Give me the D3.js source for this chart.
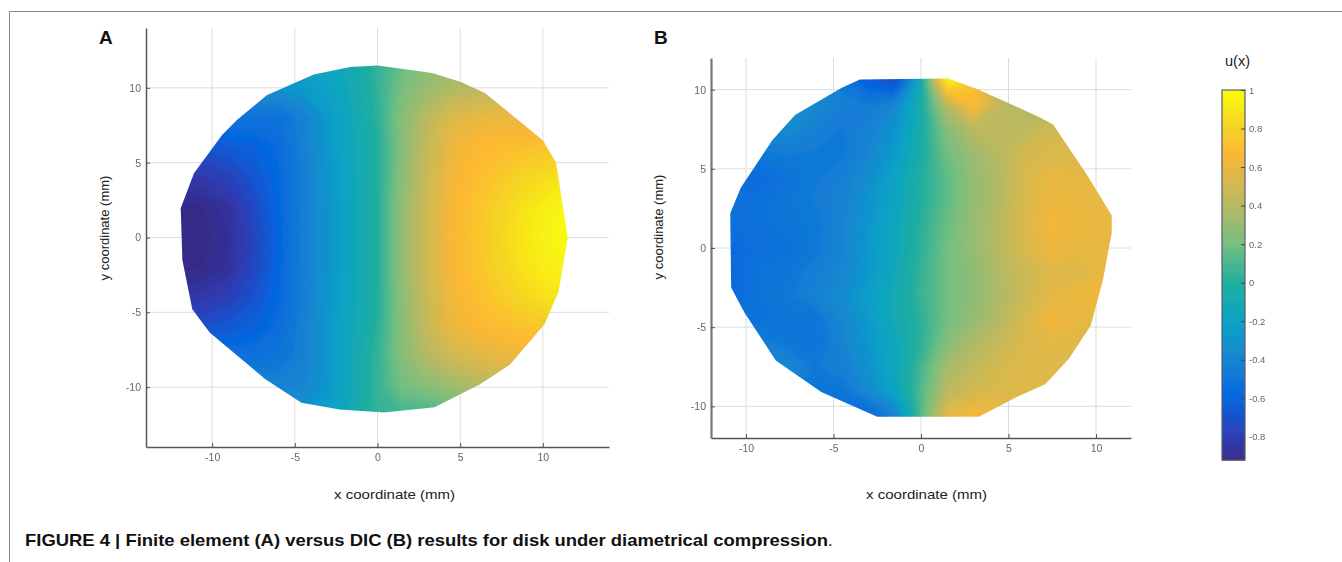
<!DOCTYPE html>
<html><head><meta charset="utf-8">
<script src="https://cdn.jsdelivr.net/npm/d3@7"></script>
<style>
html,body{margin:0;padding:0;background:#fff}
svg{display:block}
text{font-family:"Liberation Sans",Arimo,Helvetica,Arial,sans-serif}
</style></head><body>
<svg id="c" width="1342" height="562"></svg>
<script>
// ---------- data ----------
const xTicks = [-10,-5,0,5,10];
const yTicks = [-10,-5,0,5,10];
const barTicks = [-0.8,-0.6,-0.4,-0.2,0,0.2,0.4,0.6,0.8,1];
const colorStops = [-0.92,-0.8,-0.6,-0.4,-0.2,0,0.2,0.4,0.68,0.8,1];
const colorValues = ["#352a87","#2f3cb4","#0465df","#1683d2","#0aa3c6","#1fae9f","#74bf80","#b5b964","#fdb833","#f6d224","#f9fb0e"];

const gridX = [-12,-10.5,-9,-7.5,-6,-4.5,-3,-1.5,0,1.5,3,4.5,6,7.5,9,10.5,12];
const gridYA = [12,10,8,6,4,2,0,-2,-4,-6,-8,-10,-12];
const gridYB = [12,10.5,9,7.5,6,4.5,3,1.5,0,-1.5,-3,-4.5,-6,-7.5,-9,-10.5,-12];

const fieldA = [
[-.25,-.25,-.25,-.25,-.22,-.2,-.16,-.08,.05,.16,.25,.3,.32,.32,.32,.32,.32],
[-.3,-.3,-.3,-.3,-.3,-.26,-.2,-.1,.04,.22,.32,.38,.42,.42,.42,.42,.42],
[-.5,-.5,-.5,-.52,-.52,-.42,-.26,-.12,.03,.26,.42,.56,.6,.62,.6,.6,.6],
[-.7,-.68,-.65,-.62,-.56,-.42,-.27,-.13,0,.26,.46,.62,.68,.7,.72,.74,.76],
[-.85,-.82,-.78,-.68,-.58,-.43,-.29,-.14,0,.27,.48,.64,.71,.76,.82,.86,.9],
[-.92,-.91,-.86,-.74,-.59,-.43,-.3,-.15,0,.3,.5,.66,.73,.81,.89,.96,.99],
[-.93,-.92,-.88,-.76,-.6,-.43,-.3,-.15,0,.3,.5,.67,.74,.82,.91,.97,1],
[-.92,-.91,-.87,-.75,-.59,-.43,-.3,-.15,0,.3,.5,.66,.73,.81,.89,.95,.98],
[-.85,-.83,-.79,-.69,-.58,-.43,-.29,-.14,0,.28,.48,.64,.71,.77,.83,.88,.9],
[-.72,-.7,-.66,-.62,-.55,-.42,-.27,-.13,.02,.27,.46,.61,.67,.7,.73,.76,.78],
[-.52,-.52,-.52,-.52,-.5,-.42,-.27,-.11,.05,.26,.4,.5,.56,.6,.62,.62,.62],
[-.38,-.38,-.38,-.38,-.4,-.38,-.28,-.12,.05,.2,.26,.32,.38,.4,.4,.4,.4],
[-.28,-.28,-.28,-.28,-.28,-.26,-.2,-.08,.05,.08,.04,.1,.2,.25,.25,.25,.25]
];
const fieldB = [
[-.35,-.35,-.35,-.35,-.4,-.5,-.65,-.75,-.15,.9,.7,.3,.3,.3,.3,.3,.3],
[-.35,-.35,-.35,-.35,-.38,-.48,-.62,-.72,-.1,.97,.74,.3,.28,.3,.3,.3,.3],
[-.35,-.35,-.33,-.3,-.36,-.42,-.45,-.38,-.05,.42,.68,.45,.35,.4,.45,.45,.45],
[-.4,-.4,-.38,-.35,-.42,-.46,-.4,-.3,-.05,.26,.42,.42,.44,.5,.52,.5,.5],
[-.45,-.45,-.46,-.45,-.46,-.47,-.38,-.25,-.03,.2,.32,.42,.52,.54,.54,.54,.52],
[-.56,-.56,-.56,-.5,-.46,-.42,-.33,-.2,0,.15,.3,.4,.54,.6,.58,.6,.6],
[-.52,-.52,-.52,-.48,-.45,-.4,-.3,-.18,0,.15,.3,.4,.55,.62,.6,.6,.6],
[-.54,-.54,-.52,-.48,-.47,-.4,-.28,-.15,.02,.18,.3,.42,.55,.64,.62,.6,.62],
[-.56,-.56,-.52,-.52,-.47,-.38,-.28,-.15,.03,.2,.3,.42,.54,.62,.6,.6,.62],
[-.56,-.56,-.5,-.48,-.43,-.37,-.27,-.12,.05,.2,.28,.4,.49,.56,.55,.6,.62],
[-.56,-.56,-.5,-.46,-.41,-.34,-.24,-.1,.06,.2,.28,.38,.49,.58,.62,.63,.62],
[-.52,-.52,-.52,-.49,-.49,-.37,-.25,-.1,.03,.2,.3,.4,.54,.64,.6,.56,.56],
[-.44,-.44,-.44,-.48,-.5,-.4,-.28,-.14,.03,.26,.38,.47,.54,.58,.56,.55,.55],
[-.36,-.36,-.36,-.38,-.46,-.42,-.3,-.15,.08,.36,.44,.52,.56,.56,.58,.58,.58],
[-.4,-.4,-.4,-.45,-.5,-.48,-.35,-.18,.12,.42,.5,.54,.56,.58,.58,.58,.58],
[-.5,-.5,-.5,-.55,-.58,-.58,-.58,-.4,.12,.58,.65,.62,.58,.58,.58,.58,.58],
[-.5,-.5,-.5,-.55,-.58,-.58,-.6,-.42,.12,.6,.68,.64,.58,.58,.58,.58,.58]
];
const outlineAX = [-11.9,-11.8,-11.2,-10.15,-6.8,-4.6,-2.3,.4,3.45,6.2,8,10.1,10.95,11.5,10.8,10,6.5,5,3.3,0,-1.65,-3.85,-6.7,-8.5,-9.4,-11.1];
const outlineAY = [1.95,-1.5,-4.8,-6.35,-9.45,-11.05,-11.5,-11.7,-11.35,-9.8,-8.5,-5.8,-3.65,0,5,6.5,9.65,10.4,11,11.5,11.4,10.9,9.5,7.85,6.85,4.3];
const outlineBX = [-10.9,-10.3,-8.5,-7.2,-4.55,-3.5,1.55,3.2,6.8,7.55,9.5,10.9,10.9,10.4,9.7,8.45,7.1,5.5,3.3,-2.5,-5.7,-8.3,-10.1,-10.85];
const outlineBY = [2.2,3.8,6.8,8.4,10.1,10.65,10.7,10.05,8.25,7.8,4.6,2.05,.95,-2,-4.9,-7,-8.6,-9.4,-10.65,-10.65,-9.1,-7.1,-4.05,-2.5];

const panelA = {id:"A", left:146,right:609,top:28,bottom:447, xMax:14, yMax:14, field:fieldA, gridY:gridYA, ox:outlineAX, oy:outlineAY,
  letterX:99, xTitleX:394.5, yTitleX:109, yTitleY:228, xLabelY:458, yLabelX:141, yAxisWidth:1.5, fieldBlur:"softA"};
const panelB = {id:"B", left:711,right:1131,top:58,bottom:438, xMax:12, yMax:12, field:fieldB, gridY:gridYB, ox:outlineBX, oy:outlineBY,
  letterX:654, xTitleX:926.5, yTitleX:663, yTitleY:227, xLabelY:448.5, yLabelX:706, yAxisWidth:2.2, fieldBlur:"softB"};

// ---------- drawing ----------
const svg = d3.select("#c");
const defs = svg.append("defs");
defs.append("filter").attr("id","softA").append("feGaussianBlur").attr("stdDeviation",1.6);
defs.append("filter").attr("id","softB").append("feGaussianBlur").attr("stdDeviation",2.4);
defs.append("filter").attr("id","softEdge").append("feGaussianBlur").attr("stdDeviation",0.55);
defs.append("filter").attr("id","softLine").append("feGaussianBlur").attr("stdDeviation",0.35);

const color = d3.scaleLinear().domain(colorStops).range(colorValues).interpolate(d3.interpolateRgb).clamp(true);
const levels = d3.range(0,120).map(i => -0.96 + i*0.0168);

svg.append("path").attr("d","M9.5,562V11.5H1342").attr("fill","none").attr("stroke","#8a8a8a").attr("stroke-width",1);

function stretchedText(sel, w){ return sel.attr("textLength",w).attr("lengthAdjust","spacingAndGlyphs"); }

function drawPanel(p){
  const g = svg.append("g");
  const x = d3.scaleLinear().domain([-p.xMax,p.xMax]).range([p.left,p.right]);
  const y = d3.scaleLinear().domain([-p.yMax,p.yMax]).range([p.bottom,p.top]);

  const grid = g.append("g").attr("filter","url(#softLine)");
  grid.selectAll(".gv").data(xTicks).join("line")
    .attr("x1",x).attr("x2",x).attr("y1",p.top).attr("y2",p.bottom)
    .attr("stroke","#dcdcdc").attr("stroke-width",1);
  grid.selectAll(".gh").data(yTicks).join("line")
    .attr("y1",y).attr("y2",y).attr("x1",p.left).attr("x2",p.right)
    .attr("stroke","#dcdcdc").attr("stroke-width",1);

  const nx = gridX.length, ny = p.gridY.length;
  const ix = d3.scaleLinear().domain([0.5,nx-0.5]).range([gridX[0],gridX[nx-1]]);
  const iy = d3.scaleLinear().domain([0.5,ny-0.5]).range([p.gridY[0],p.gridY[ny-1]]);
  const values = p.field.flat();
  const contours = d3.contours().size([nx,ny]).smooth(true).thresholds(levels)(values);
  const proj = d3.geoTransform({point(a,b){this.stream.point(x(ix(a)),y(iy(b)));}});
  const path = d3.geoPath(proj);
  const outline = d3.line().x(d=>x(d[0])).y(d=>y(d[1])).curve(d3.curveLinearClosed)(p.ox.map((v,i)=>[v,p.oy[i]]));
  defs.append("clipPath").attr("id","disk"+p.id).append("path").attr("d",outline);
  g.append("g").attr("filter","url(#softEdge)")
    .append("g").attr("clip-path",`url(#disk${p.id})`)
    .append("g").attr("filter",`url(#${p.fieldBlur})`)
    .selectAll("path").data(contours).join("path")
    .attr("d",path).attr("fill",d=>color(d.value+0.008));

  const ax = g.append("g").attr("transform",`translate(0,${p.bottom})`).attr("filter","url(#softLine)")
    .call(d3.axisBottom(x).tickValues(xTicks).tickSize(-4).tickSizeOuter(0).tickPadding(0).tickFormat(d3.format("d")));
  const ay = g.append("g").attr("transform",`translate(${p.left},0)`).attr("filter","url(#softLine)")
    .call(d3.axisLeft(y).tickValues(yTicks).tickSize(-4).tickSizeOuter(0).tickPadding(0).tickFormat(d3.format("d")));
  ax.select(".domain").attr("stroke","#555").attr("stroke-width",1.5);
  ay.select(".domain").attr("stroke",p.id==="B"?"#777":"#555").attr("stroke-width",p.yAxisWidth);
  [ax,ay].forEach(a=>{
    a.selectAll(".tick line").attr("stroke","#555").attr("stroke-width",1);
    a.selectAll("text").attr("fill","#666").attr("font-size",10.5).style("font-family",'"Liberation Sans",sans-serif');
  });
  ax.selectAll("text").text(d=>d3.format("d")(d).replace("\u2212","-")).attr("y",p.xLabelY-p.bottom).attr("dy","0.32em");
  ay.selectAll("text").text(d=>d3.format("d")(d).replace("\u2212","-")).attr("x",p.yLabelX-p.left);

  stretchedText(g.append("text").attr("x",p.xTitleX).attr("y",499).attr("text-anchor","middle").attr("font-size",13).attr("fill","#222").text("x coordinate (mm)"),121);
  g.append("text").attr("transform",`translate(${p.yTitleX},${p.yTitleY}) rotate(-90)`).attr("text-anchor","middle").attr("font-size",13).attr("fill","#222").text("y coordinate (mm)");
  g.append("text").attr("x",p.letterX).attr("y",44).attr("font-size",19).attr("font-weight","bold").attr("fill","#111").text(p.id);
}
drawPanel(panelA);
drawPanel(panelB);

// colorbar
const barLeft=1222, barRight=1245, barTop=90, barBottom=460;
const barScale = d3.scaleLinear().domain([-0.92,1]).range([barBottom,barTop]);
const bar = svg.append("g");
const barSteps = d3.range(0,192).map(i=>-0.92+i*0.01);
bar.selectAll("rect").data(barSteps).join("rect")
  .attr("x",barLeft).attr("width",barRight-barLeft)
  .attr("y",d=>barScale(d+0.01)).attr("height",d=>barScale(d)-barScale(d+0.01)+0.6)
  .attr("fill",d=>color(d+0.005));
bar.append("rect").attr("x",barLeft).attr("y",barTop).attr("width",barRight-barLeft).attr("height",barBottom-barTop)
  .attr("fill","none").attr("stroke","#5a5a6a").attr("stroke-width",1.2);
const barAxis = bar.append("g").attr("transform",`translate(${barRight},0)`).attr("filter","url(#softLine)")
  .call(d3.axisRight(barScale).tickValues(barTicks).tickSize(-4).tickSizeOuter(0).tickPadding(0).tickFormat(d=>String(d)));
barAxis.select(".domain").remove();
barAxis.selectAll(".tick line").attr("stroke","#444").attr("stroke-width",1);
barAxis.selectAll("text").attr("x",4).attr("fill","#666").attr("font-size",9.5).style("font-family",'"Liberation Sans",sans-serif');
stretchedText(svg.append("text").attr("x",1237.5).attr("y",66).attr("text-anchor","middle").attr("font-size",14).attr("fill","#222").text("u(x)"),25);

// caption
const capBold = svg.append("text").attr("x",25).attr("y",546).attr("font-size",16.5).attr("font-weight","bold").attr("fill","#111")
  .text("FIGURE 4 | Finite element (A) versus DIC (B) results for disk under diametrical compression");
stretchedText(capBold,803);
svg.append("text").attr("x",828).attr("y",546).attr("font-size",16.5).attr("fill","#111").text(".");
</script></body></html>
